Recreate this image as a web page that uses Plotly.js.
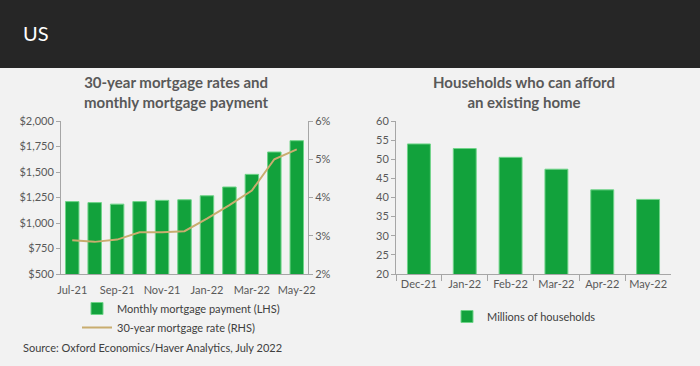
<!DOCTYPE html>
<html>
<head>
<meta charset="utf-8">
<script src="https://cdn.plot.ly/plotly-3.0.1.min.js"></script>
<style>
html,body{margin:0;padding:0;background:#f2f2f2;}
#chart{width:700px;height:366px;}
</style>
</head>
<body>
<div id="chart"></div>
<script>
// ---- Data ----
const months = ['Jul-21','Aug-21','Sep-21','Oct-21','Nov-21','Dec-21','Jan-22','Feb-22','Mar-22','Apr-22','May-22'];
const monthTicks = ['Jul-21','Sep-21','Nov-21','Jan-22','Mar-22','May-22'];
const payment = [1210,1200,1185,1210,1222,1228,1267,1353,1477,1696,1807];
const rate = [2.88,2.84,2.90,3.09,3.09,3.12,3.45,3.80,4.18,5.00,5.26];
const payTicks = [500,750,1000,1250,1500,1750,2000];
const payTickText = ['$500','$750','$1,000','$1,250','$1,500','$1,750','$2,000'];
const rateTicks = [2,3,4,5,6];
const rateTickText = ['2%','3%','4%','5%','6%'];

const hhMonths = ['Dec-21','Jan-22','Feb-22','Mar-22','Apr-22','May-22'];
const households = [54.0,52.8,50.5,47.4,42.0,39.5];
const hhTicks = [20,25,30,35,40,45,50,55,60];

// ---- Layout helpers ----
const W = 700, H = 366;
const px = v => v / W;
const py = v => 1 - v / H;

const green = '#12a23c';
const greenEdge = '#6fd488';
const tan = '#c9ad6f';
const axisCol = '#a6a6a6';
const txt = '#595959';
const font = 'Lato, "Open Sans", sans-serif';

const traces = [
  {type:'bar', x:months, y:payment, xaxis:'x', yaxis:'y', width:0.6,
   name:'Monthly mortgage payment (LHS)', legend:'legend',
   marker:{color:green, line:{color:greenEdge, width:1}}},
  {type:'scatter', mode:'lines', x:months, y:rate, xaxis:'x', yaxis:'y2',
   name:'30-year mortgage rate (RHS)', legend:'legend',
   line:{color:tan, width:2}},
  {type:'bar', x:hhMonths, y:households, xaxis:'x3', yaxis:'y3', width:0.5,
   name:'Millions of households', legend:'legend2',
   marker:{color:green, line:{color:greenEdge, width:1}}}
];

const axBase = {showgrid:false, zeroline:false, showline:true, linecolor:axisCol, linewidth:1,
  tickfont:{family:font, size:11, color:txt}, fixedrange:true};

const layout = {
  width:W, height:H,
  margin:{l:0, r:0, t:0, b:0},
  paper_bgcolor:'#f2f2f2', plot_bgcolor:'rgba(0,0,0,0)',
  font:{family:font, color:txt},
  showlegend:true,
  xaxis:Object.assign({}, axBase, {domain:[px(61), px(308)], anchor:'y', type:'category',
    categoryorder:'array', categoryarray:months, tickmode:'array', tickvals:monthTicks, ticktext:monthTicks,
    ticks:'outside', ticklen:6, tickcolor:'rgba(0,0,0,0)'}),
  yaxis:Object.assign({}, axBase, {domain:[py(274), py(121)], anchor:'x', range:[500,2000],
    tickmode:'array', tickvals:payTicks, ticktext:payTickText, ticks:'outside', ticklen:4, tickcolor:axisCol}),
  yaxis2:Object.assign({}, axBase, {overlaying:'y', side:'right', anchor:'x', range:[2,6],
    tickmode:'array', tickvals:rateTicks, ticktext:rateTickText, ticks:'outside', ticklen:4, tickcolor:axisCol}),
  xaxis3:Object.assign({}, axBase, {domain:[px(396), px(671)], anchor:'y3', type:'category',
    categoryorder:'array', categoryarray:hhMonths, ticks:'outside', tickson:'boundaries', ticklen:6, tickcolor:axisCol}),
  yaxis3:Object.assign({}, axBase, {domain:[py(274), py(121)], anchor:'x3', range:[20,60],
    tickmode:'array', tickvals:hhTicks, ticks:'outside', ticklen:4, tickcolor:axisCol}),
  legend:{x:px(77), y:py(294), xanchor:'left', yanchor:'top', orientation:'v',
    bgcolor:'rgba(0,0,0,0)', font:{family:font, size:11, color:'#404040'}, tracegroupgap:0, itemwidth:30},
  legend2:{x:px(447), y:py(302), xanchor:'left', yanchor:'top', orientation:'v',
    bgcolor:'rgba(0,0,0,0)', font:{family:font, size:11, color:'#404040'}, itemwidth:30},
  shapes:[
    {type:'rect', xref:'paper', yref:'paper', x0:0, x1:1, y0:py(68), y1:1, fillcolor:'#262626', line:{width:0}, layer:'below'}
  ],
  annotations:[
    {xref:'paper', yref:'paper', x:px(21), y:py(33), xanchor:'left', yanchor:'middle', showarrow:false,
     text:'US', font:{family:font, size:20, color:'#ffffff'}},
    {xref:'paper', yref:'paper', x:px(176), y:py(92), xanchor:'center', yanchor:'middle', showarrow:false,
     text:'<b>30-year mortgage rates and<br>monthly mortgage payment</b>', font:{family:font, size:15, color:txt}},
    {xref:'paper', yref:'paper', x:px(524), y:py(92), xanchor:'center', yanchor:'middle', showarrow:false,
     text:'<b>Households who can afford<br>an existing home</b>', font:{family:font, size:15, color:txt}},
    {xref:'paper', yref:'paper', x:px(21), y:py(347), xanchor:'left', yanchor:'middle', showarrow:false,
     text:'Source: Oxford Economics/Haver Analytics, July 2022', font:{family:font, size:11, color:'#404040'}}
  ]
};

Plotly.newPlot('chart', traces, layout, {displayModeBar:false, staticPlot:true});
</script>
</body>
</html>
